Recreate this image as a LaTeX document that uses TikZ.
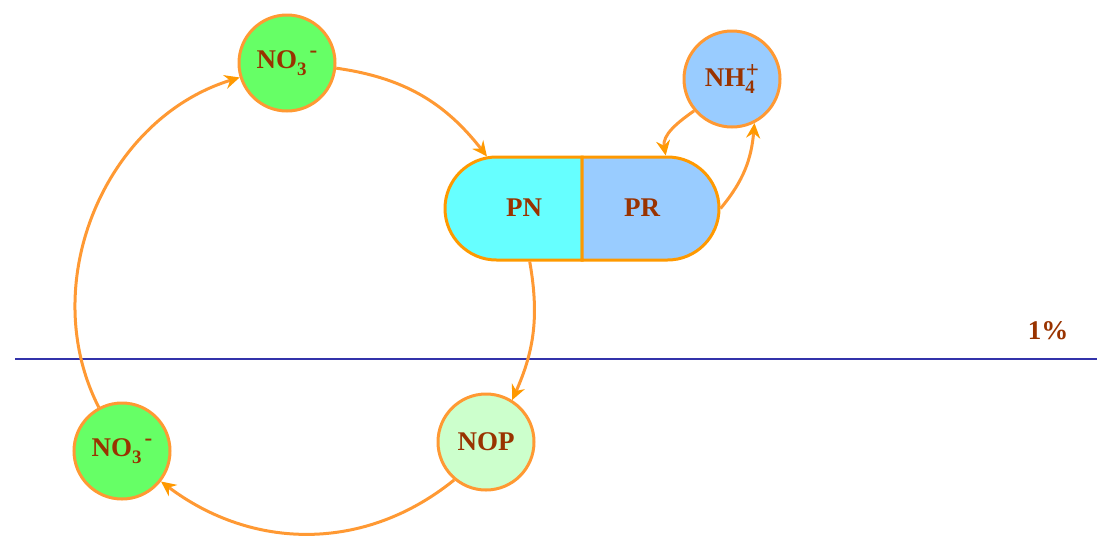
\documentclass[tikz,border=0pt]{standalone}
\usepackage{fontspec}
\setmainfont{Liberation Serif}
\usetikzlibrary{arrows.meta,shapes.misc}

\definecolor{edgeor}{HTML}{FF9933}
\definecolor{arrowor}{HTML}{FF9900}
\definecolor{nitratefill}{HTML}{66FF66}
\definecolor{ammonfill}{HTML}{99CCFF}
\definecolor{pnfill}{HTML}{66FFFF}
\definecolor{nopfill}{HTML}{CCFFCC}
\definecolor{labelbrown}{HTML}{993300}
\definecolor{lineblue}{HTML}{3333AA}

% chemical sub- and superscripts
\newcommand\ionsub[1]{\raisebox{-7pt}{\fontsize{19}{19}\selectfont #1}}
\newcommand\ionsup[2]{\raisebox{#1}{\fontsize{23}{23}\selectfont #2}}
\newcommand\nitrateion{NO\ionsub{3}\kern3pt\ionsup{11pt}{-}}
\newcommand\ammoniumion{NH\rlap{\ionsub{4}}\kern0.5pt\ionsup{9pt}{+}}

\begin{document}
\begin{tikzpicture}[x=1pt,y=-1pt,
  every node/.style={text=labelbrown, font=\fontsize{27}{30}\selectfont\bfseries},
  species/.style={circle, draw=edgeor, line width=3pt, minimum size=96pt, inner sep=0pt},
  half/.style={rounded rectangle, draw=arrowor, line width=3pt,
    minimum height=103pt, minimum width=137pt, inner sep=0pt},
  flow/.style={draw=edgeor, line width=3pt,
    -{Stealth[length=15pt,width=14pt,inset=5pt,color=arrowor]}}]

\useasboundingbox (0,0) rectangle (1097,539);

% separating line and its label
\coordinate (ls) at (15,359);
\coordinate (le) at (1097,359);
\draw[lineblue, line width=2pt] (ls) -- (le);
\node (pct) at (1048,331) {1\%};

% pools
\node[species, fill=nitratefill] (no3a) at (287,63) {\nitrateion};
\node[species, fill=ammonfill] (nh4) at (732,79) {\ammoniumion};
\node[half, fill=pnfill, rounded rectangle right arc=none] (pn) at (513.5,208.5) {};
\node[half, fill=ammonfill, rounded rectangle left arc=none] (pr) at (650.5,208.5) {};
\node (pntext) at (524,208) {PN};
\node (prtext) at (642,208) {PR};
\node[species, fill=nopfill] (nop) at (486,442) {NOP};
\node[species, fill=nitratefill] (no3b) at (122,451) {\nitrateion};

% fluxes
\draw[flow] (no3a.-6) to[out=-8, in=128] (pn.117);
\draw[flow] (pn.-73) to[out=-80, in=66] (nop.58);
\draw[flow] (nop.230) to[out=-141, in=-37] (no3b.-38);
\draw[flow] (no3b.118) to[out=117, in=197] (no3a.197);
\draw[flow] (nh4.220) to[out=215, in=100] (pr.74);
\draw[flow] (pr.east) to[out=50, in=-95] (nh4.297);
\end{tikzpicture}
\end{document}
